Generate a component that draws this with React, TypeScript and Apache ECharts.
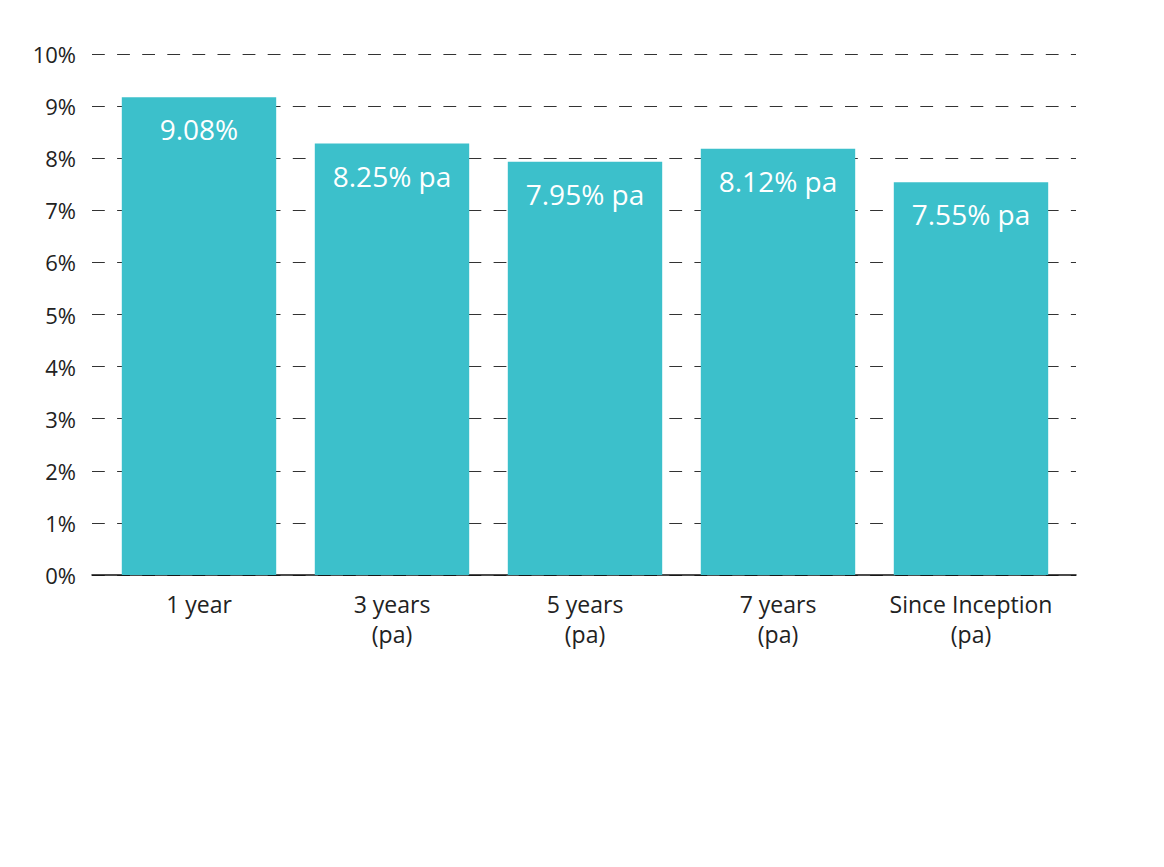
import React, { useEffect, useRef } from "react";
import * as echarts from "echarts";

const categories = ["1 year", "3 years\n(pa)", "5 years\n(pa)", "7 years\n(pa)", "Since Inception\n(pa)"];
const barValues = [9.17, 8.28, 7.93, 8.18, 7.54];
const barLabels = ["9.08%", "8.25% pa", "7.95% pa", "8.12% pa", "7.55% pa"];
const yTicks = [0, 1, 2, 3, 4, 5, 6, 7, 8, 9, 10];

const FONT = "'Open Sans', 'Noto Sans', sans-serif";

export default function App() {
  const ref = useRef<HTMLDivElement>(null);
  useEffect(() => {
    if (!ref.current) return;
    const chart = echarts.init(ref.current, null, { renderer: "svg" });
    chart.setOption({
      animation: false,
      backgroundColor: "#ffffff",
      textStyle: { fontFamily: FONT },
      grid: [
        { left: 94.5, right: 88.5, top: 46, bottom: 284 },
        { left: 84, right: 80, top: 46, bottom: 284 },
      ],
      xAxis: [
        {
          type: "category",
          gridIndex: 0,
          data: categories,
          axisLine: { show: false },
          axisTick: { show: false },
          axisLabel: {
            color: "#222",
            fontSize: 23,
            fontFamily: FONT,
            lineHeight: 30,
            margin: 14,
            interval: 0,
          },
        },
        {
          type: "value",
          gridIndex: 1,
          min: 0,
          max: 1,
          axisLine: { show: true, lineStyle: { color: "#111", width: 1.5 } },
          axisTick: { show: false },
          axisLabel: { show: false },
          splitLine: { show: false },
        },
      ],
      yAxis: [
        {
          type: "value",
          gridIndex: 0,
          min: 0,
          max: 10,
          interval: 1,
          show: false,
          splitLine: { show: false },
        },
        {
          type: "value",
          gridIndex: 1,
          min: yTicks[0],
          max: yTicks[yTicks.length - 1],
          interval: 1,
          axisLine: { show: false },
          axisTick: { show: false },
          axisLabel: {
            color: "#222",
            fontSize: 22,
            fontFamily: FONT,
            margin: 16,
            formatter: (v: number) => `${v}%`,
          },
          splitLine: {
            show: true,
            lineStyle: { color: "#333", width: 1.2, type: [12.8, 12.3] },
          },
        },
      ],
      series: [
        {
          type: "bar",
          xAxisIndex: 0,
          yAxisIndex: 0,
          data: barValues,
          barCategoryGap: "20%",
          itemStyle: { color: "#3cc0cb" },
          label: {
            show: true,
            position: "insideTop",
            distance: 18,
            color: "#ffffff",
            fontSize: 28,
            fontFamily: FONT,
            formatter: (p: any) => barLabels[p.dataIndex],
          },
        },
      ],
    });
    return () => chart.dispose();
  }, []);
  return <div ref={ref} style={{ width: 1148, height: 851 }} />;
}
